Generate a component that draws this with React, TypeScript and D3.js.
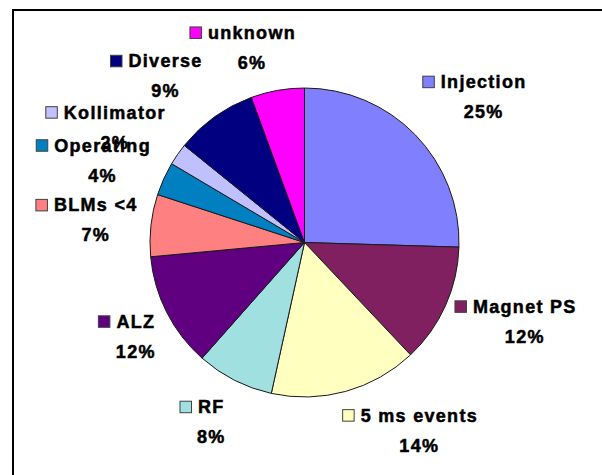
import React, { useEffect, useRef } from 'react';
import * as d3 from 'd3';

// ---- data (clockwise from 12 o'clock) ----
const categories = ['Injection', 'Magnet PS', '5 ms events', 'RF', 'ALZ', 'BLMs <4', 'Operating', 'Kollimator', 'Diverse', 'unknown'];
const shares = [25.5, 12.5, 15.5, 8.1, 12.0, 6.5, 3.5, 2.3, 8.6, 5.6];
const percentLabels = ['25%', '12%', '14%', '8%', '12%', '7%', '4%', '2%', '9%', '6%'];

// ---- styling / layout ----
const colors = ['#8080FF', '#802060', '#FFFFC0', '#A0E0E0', '#600080', '#FF8080', '#0080C0', '#C0C0FF', '#000080', '#FF00FF'];
const labelRadius = [231, 234, 220, 202, 193, 210, 218, 222, 217, 202];
const labelAngleShift = [5, -4.5, -16, 0.5, -2.2, -0.2, -2.2, -3.5, -4.2, -5];

const W = 602;
const H = 475;
const CX = 304.5;
const CY = 242.5;
const R = 154.5;
const FONT = '"Liberation Sans", Arial, sans-serif';

export default function App() {
  const ref = useRef<SVGSVGElement | null>(null);

  useEffect(() => {
    const svg = d3.select(ref.current);
    svg.selectAll('*').remove();

    svg.append('rect').attr('x', 0).attr('y', 0).attr('width', W).attr('height', H).attr('fill', '#fff');
    // chart frame (right & bottom edges fall outside the view)
    svg.append('rect')
      .attr('x', 13).attr('y', 10).attr('width', 700).attr('height', 600)
      .attr('fill', 'none').attr('stroke', '#000').attr('stroke-width', 2);

    const pie = d3.pie<number>().sort(null).value((d) => d);
    const arcs = pie(shares);
    const arc = d3.arc<d3.PieArcDatum<number>>().innerRadius(0).outerRadius(R);

    const g = svg.append('g').attr('transform', `translate(${CX},${CY})`);
    g.selectAll('path.slice')
      .data(arcs)
      .join('path')
      .attr('class', 'slice')
      .attr('d', arc)
      .attr('fill', (_d, i) => colors[i])
      .attr('stroke', '#1a1a1a')
      .attr('stroke-width', 1)
      .attr('stroke-linejoin', 'round');

    const lbl = svg.append('g');
    arcs.forEach((a, i) => {
      const ang = (a.startAngle + a.endAngle) / 2 + (labelAngleShift[i] * Math.PI) / 180;
      const x = CX + labelRadius[i] * Math.sin(ang);
      const blockY = CY - labelRadius[i] * Math.cos(ang);
      const base = blockY - 8.5;

      const name = lbl.append('text')
        .attr('x', x).attr('y', base)
        .attr('text-anchor', 'middle')
        .attr('font-family', FONT).attr('font-weight', 'bold').attr('font-size', 18)
        .attr('letter-spacing', '1.3px')
        .attr('fill', '#000').attr('stroke', '#000').attr('stroke-width', 0.5)
        .text(categories[i]);
      const w = (name.node() as SVGTextElement).getComputedTextLength();

      lbl.append('rect')
        .attr('x', x - w / 2 - 6 - 12).attr('y', base - 12)
        .attr('width', 11.5).attr('height', 11.5)
        .attr('fill', colors[i]).attr('stroke', '#404040').attr('stroke-width', 1);

      lbl.append('text')
        .attr('x', x).attr('y', base + 30)
        .attr('text-anchor', 'middle')
        .attr('font-family', FONT).attr('font-weight', 'bold').attr('font-size', 18)
        .attr('letter-spacing', '1.3px')
        .attr('fill', '#000').attr('stroke', '#000').attr('stroke-width', 0.5)
        .text(percentLabels[i]);
    });
  }, []);

  return (
    <svg
      ref={ref}
      width={W}
      height={H}
      style={{ position: 'fixed', left: 0, top: 0, display: 'block' }}
    />
  );
}
